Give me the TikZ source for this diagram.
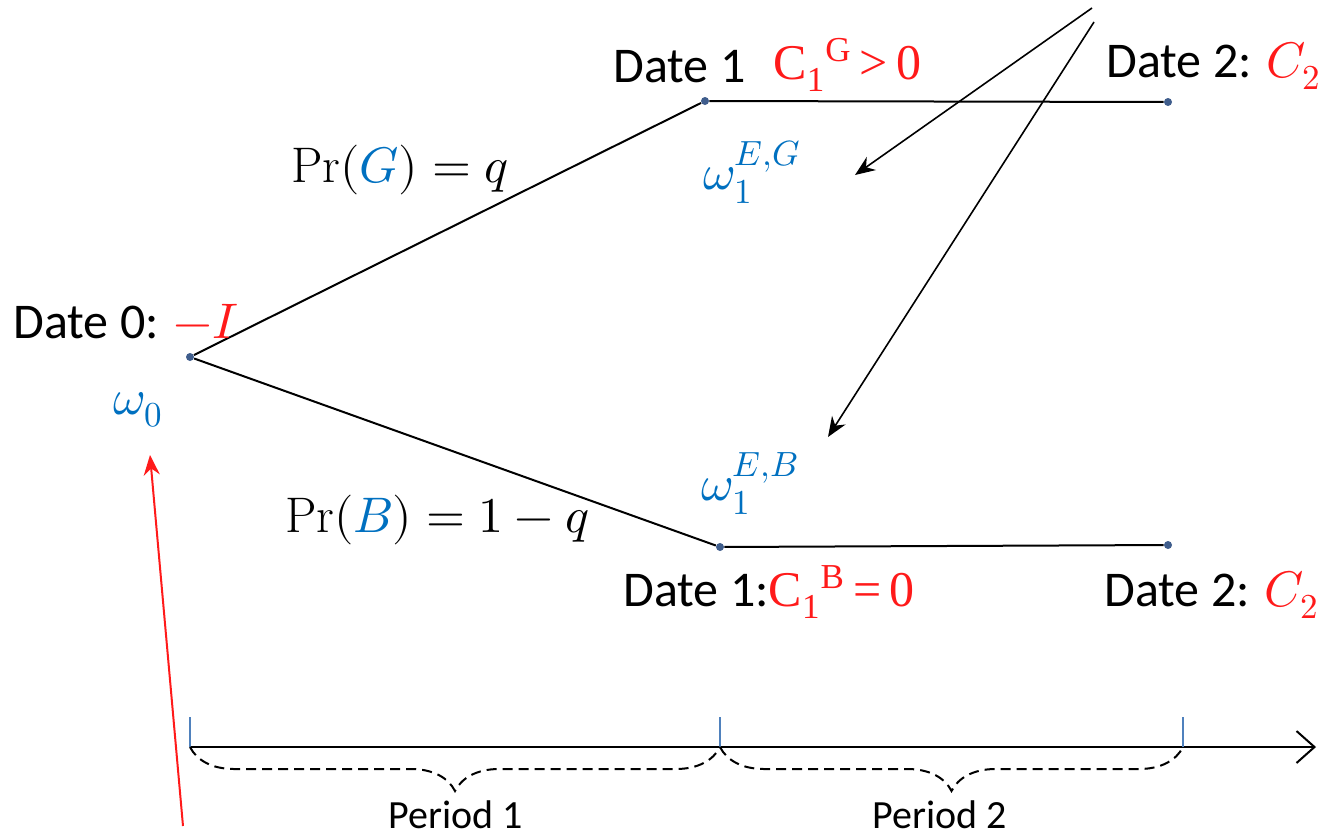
\documentclass[tikz,border=0pt]{standalone}
\usepackage{fontspec}
\usepackage{unicode-math}
\setmainfont{Carlito}
\setmathfont{Latin Modern Math}
\setmathrm{Latin Modern Roman}
\newfontfamily\tnr{Liberation Serif}
\usetikzlibrary{arrows.meta,decorations.pathreplacing}
\definecolor{myred}{HTML}{FF1A1A}
\definecolor{myblue}{HTML}{0070C0}
\definecolor{dotc}{HTML}{3F5D8C}
\definecolor{tickc}{HTML}{4F81BD}
\tikzset{
  lbl/.style={inner sep=0pt, font=\fontsize{25}{30}\selectfont},
  small/.style={inner sep=0pt, font=\fontsize{20}{24}\selectfont},
  dotnode/.style={circle, fill=dotc, inner sep=0pt, minimum size=4pt},
  branch/.style={line width=1pt, black},
  pointer/.style={line width=0.8pt, -{Stealth[length=10pt,width=8pt]}},
  tickmark/.style={line width=0.8pt, tickc},
  dbrace/.style={dash pattern=on 5pt off 3pt, line width=1pt, decorate, decoration={brace, mirror, amplitude=22pt}}
}
\begin{document}
\begin{tikzpicture}[x=0.5pt,y=-0.5pt]
\useasboundingbox (0,0) rectangle (1321,836);
% tree nodes
\node[dotnode] (d0) at (190,357) {};
\node[dotnode] (g1) at (705,101) {};
\node[dotnode] (g2) at (1168,102) {};
\node[dotnode] (b1) at (720,547) {};
\node[dotnode] (b2) at (1168,545) {};
\draw[branch] (d0) -- (g1) -- (g2);
\draw[branch] (d0) -- (b1) -- (b2);
% labels
\node[lbl, anchor=west] (t0) at (13,322) {Date 0: \textcolor{myred}{$-I$}};
\node[lbl, text=myblue] (w0) at (138,410) {$\omega_0$};
\node[lbl] (prg) at (400,170) {$\mathrm{Pr}(\textcolor{myblue}{G})=q$};
\node[lbl] (prb) at (437,520) {$\mathrm{Pr}(\textcolor{myblue}{B})=1-q$};
\node[lbl, anchor=west] (t1g) at (613,67) {Date 1};
\node[lbl, anchor=west, text=myred] (c1g) at (773,65) {\tnr C\textsubscript{1}\textsuperscript{G}\,>\,0};
\node[lbl, anchor=west] (t2g) at (1106,66) {Date 2: \textcolor{myred}{$C_2$}};
\node[lbl, text=myblue] (w1g) at (752,172) {$\omega_1^{E,G}$};
\node[lbl, text=myblue] (w1b) at (750,484) {$\omega_1^{E,B}$};
\node[lbl, anchor=west] (t1b) at (623,592) {Date 1:\textcolor{myred}{\tnr C\textsubscript{1}\textsuperscript{B}\,=\,0}};
\node[lbl, anchor=west] (t2b) at (1104,595) {Date 2: \textcolor{myred}{$C_2$}};
% pointers
\coordinate (s1) at (1092,8);
\coordinate (e1) at (855,175);
\coordinate (s2) at (1094,22);
\coordinate (e2) at (828,437);
\draw[pointer] (s1) -- (e1);
\draw[pointer] (s2) -- (e2);
\coordinate (rs) at (183,826);
\coordinate (re) at (150,455);
\draw[pointer, myred, line width=1pt] (rs) -- (re);
% timeline
\coordinate (a0) at (190,747);
\coordinate (a1) at (720,747);
\coordinate (a2) at (1183,747);
\coordinate (aend) at (1316,747);
\draw[line width=1pt, -{Straight Barb[length=9pt,width=16pt]}] (a0) -- (aend);
\draw[tickmark] (a0) -- ++(0,-30);
\draw[tickmark] (a1) -- ++(0,-30);
\draw[tickmark] (a2) -- ++(0,-30);
\draw[dbrace] (a0) -- (a1);
\draw[dbrace] (a1) -- (a2);
\node[small] (p1) at (456,815) {Period 1};
\node[small] (p2) at (940,815) {Period 2};
\end{tikzpicture}
\end{document}
